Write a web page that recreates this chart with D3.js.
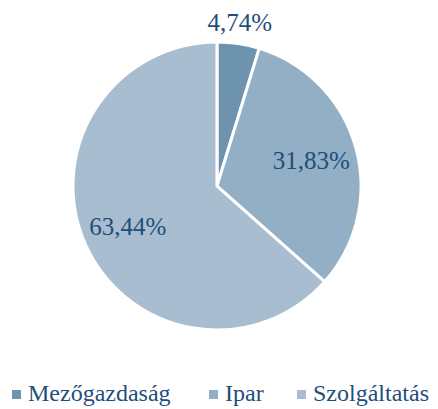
<!DOCTYPE html>
<html><head><meta charset="UTF-8"></head><body>
<script src="https://d3js.org/d3.v7.min.js"></script>
<script>
    var categories = ['Mezőgazdaság', 'Ipar', 'Szolgáltatás'];
    var values = [4.74, 31.83, 63.44];
    var labels = ['4,74%', '31,83%', '63,44%'];
    var colors = ['#6e93ae', '#92afc5', '#a8bed0'];

    var width = 438,
        height = 409,
        cx = 217,
        cy = 186,
        radius = 144,
        serifFamily = '"Liberation Serif"',
        textColor = '#1f4e79';

    d3.select('body').style('margin', '0');

    var svg = d3.select('body').append('svg')
                .attr('width', width)
                .attr('height', height);

    // warm up the serif faces (unseen)
    var warm = ['Liberation Serif', 'Times New Roman', 'Tinos', 'DejaVu Serif', 'Times'];
    svg.selectAll('text.warm').data(warm).enter().append('text')
       .attr('class', 'warm')
       .attr('x', -500).attr('y', function(d, i) { return 30 + i * 30; })
       .attr('font-size', 24)
       .style('font-family', function(d) { return '"' + d + '"'; })
       .text(function(d) { return d + ' 63,44% Mezőgazdaság'; });

    var pie = d3.pie().sort(null).value(function(d) { return d; });
    var arcs = pie(values);

    var arc = d3.arc().innerRadius(0).outerRadius(radius);

    var g = svg.append('g')
               .attr('transform', 'translate(' + cx + ',' + cy + ')');

    g.selectAll('path.slice')
     .data(arcs)
     .enter()
     .append('path')
     .attr('class', 'slice')
     .attr('d', arc)
     .attr('fill', function(d, i) { return colors[i]; })
     .attr('stroke', '#fff')
     .attr('stroke-width', 3);

    // small slice gets its label outside, the others inside
    var labelRadius = [radius * 1.07, radius * 0.68, radius * 0.68];
    svg.selectAll('text.label')
     .data(arcs)
     .enter()
     .append('text')
     .attr('class', 'label')
     .attr('text-anchor', 'middle')
     .attr('x', function(d, i) {
         var a = (d.startAngle + d.endAngle) / 2;
         return cx + Math.sin(a) * labelRadius[i];
     })
     .attr('y', function(d, i) {
         var a = (d.startAngle + d.endAngle) / 2;
         var y = -Math.cos(a) * labelRadius[i];
         if (i === 0) { y -= 12; }
         return cy + y + 9;
     })
     .attr('font-size', 25)
     .style('font-family', function() { return serifFamily; })
     .attr('fill', textColor)
     .text(function(d, i) { return labels[i]; });

    // legend
    var legendX = [12, 209, 297];
    svg.selectAll('rect.key')
        .data(categories)
        .enter()
        .append('rect')
        .attr('class', 'key')
        .attr('x', function(d, i) { return legendX[i]; })
        .attr('y', 390)
        .attr('width', 9)
        .attr('height', 9)
        .attr('fill', function(d, i) { return colors[i]; });

    svg.selectAll('text.legend')
        .data(categories)
        .enter()
        .append('text')
        .attr('class', 'legend')
        .attr('x', function(d, i) { return legendX[i] + 16; })
        .attr('y', 401)
        .attr('font-size', 24)
        .style('font-family', function() { return serifFamily; })
        .attr('fill', textColor)
        .text(function(d) { return d; });
</script>
</body></html>
